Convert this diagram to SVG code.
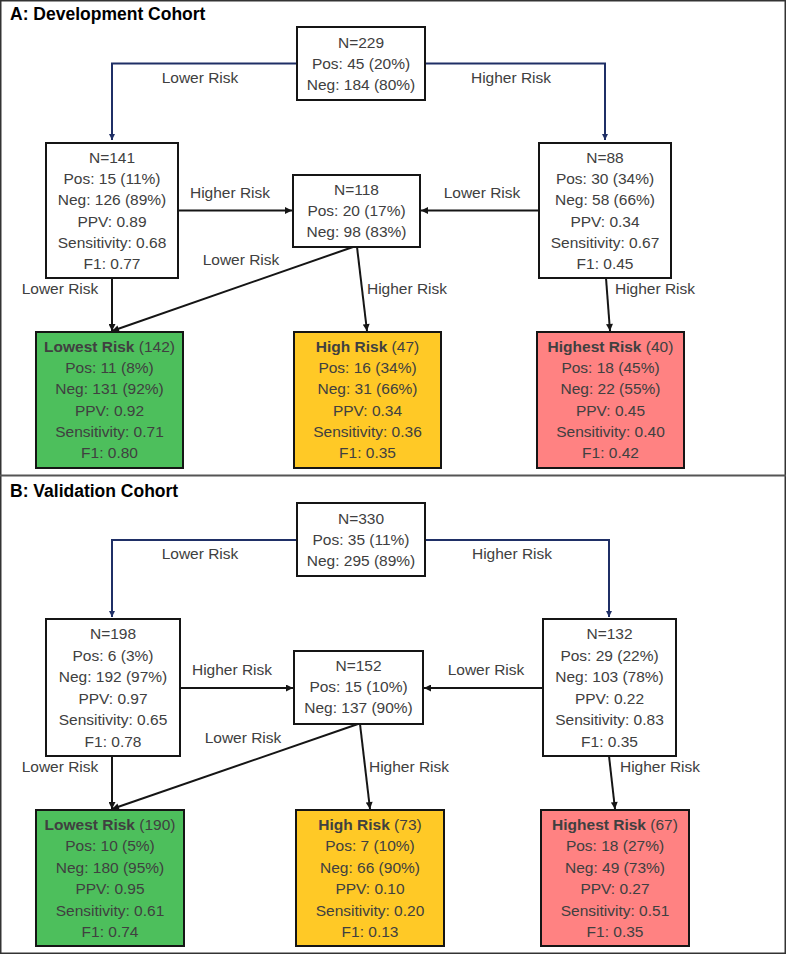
<svg xmlns="http://www.w3.org/2000/svg" width="787" height="955" viewBox="0 0 787 955">
<style>
text{font-family:"Liberation Sans",Arial,sans-serif;font-size:15.5px;fill:#404040;text-anchor:middle}
.title{font-size:17.5px;font-weight:bold;fill:#000;text-anchor:start}
.b{font-weight:bold}
.box{fill:#fff;stroke:#151515;stroke-width:2}
.g{fill:#4DBF5C}.y{fill:#FFC926}.p{fill:#FF8282}
.nv{fill:none;stroke:#1F2F66;stroke-width:2}
.bk{fill:none;stroke:#151515;stroke-width:2}
</style>
<defs>
<marker id="an" viewBox="0 0 10 10" refX="10" refY="5" markerWidth="7" markerHeight="6" markerUnits="userSpaceOnUse" orient="auto"><path d="M0,0L10,5L0,10z" fill="#1F2F66"/></marker>
<marker id="ab" viewBox="0 0 10 10" refX="10" refY="5" markerWidth="8" markerHeight="7" markerUnits="userSpaceOnUse" orient="auto"><path d="M0,0L10,5L0,10z" fill="#151515"/></marker>
</defs>
<rect x="0" y="0" width="787" height="955" fill="#fff"/>
<rect x="0.75" y="0.75" width="784.5" height="952.5" fill="none" stroke="#333" stroke-width="1.5"/>
<line x1="0" y1="475.5" x2="786" y2="475.5" stroke="#555" stroke-width="2"/>
<text class="title" x="10" y="20">A: Development Cohort</text>
<text class="title" x="10" y="497">B: Validation Cohort</text>

<g id="connectors">
<!-- Panel A -->
<path class="nv" d="M297,63.5H112V140" marker-end="url(#an)"/>
<path class="nv" d="M425,63.5H605V140" marker-end="url(#an)"/>
<path class="bk" d="M178,210.5H292" marker-end="url(#ab)"/>
<path class="bk" d="M539,210.5H421" marker-end="url(#ab)"/>
<path class="bk" d="M112,278V331" marker-end="url(#ab)"/>
<path class="bk" d="M353,247L112,331" marker-end="url(#ab)"/>
<path class="bk" d="M357,247L367,331" marker-end="url(#ab)"/>
<path class="bk" d="M606,278L610,331" marker-end="url(#ab)"/>
<text x="200" y="83">Lower Risk</text>
<text x="511" y="83">Higher Risk</text>
<text x="230" y="198">Higher Risk</text>
<text x="482" y="198">Lower Risk</text>
<text x="241" y="265">Lower Risk</text>
<text x="60" y="294">Lower Risk</text>
<text x="407" y="294">Higher Risk</text>
<text x="655" y="294">Higher Risk</text>
<!-- Panel B -->
<path class="nv" d="M297,540H112V617" marker-end="url(#an)"/>
<path class="nv" d="M425,540H609V617" marker-end="url(#an)"/>
<path class="bk" d="M180,688H293" marker-end="url(#ab)"/>
<path class="bk" d="M543,688H424" marker-end="url(#ab)"/>
<path class="bk" d="M112,756V809" marker-end="url(#ab)"/>
<path class="bk" d="M358,724L112,809" marker-end="url(#ab)"/>
<path class="bk" d="M360,724L370,809" marker-end="url(#ab)"/>
<path class="bk" d="M609,756L615,809" marker-end="url(#ab)"/>
<text x="200" y="559">Lower Risk</text>
<text x="512" y="559">Higher Risk</text>
<text x="232" y="675">Higher Risk</text>
<text x="486" y="675">Lower Risk</text>
<text x="243" y="743">Lower Risk</text>
<text x="60" y="772">Lower Risk</text>
<text x="409" y="772">Higher Risk</text>
<text x="660" y="772">Higher Risk</text>
</g>

<!-- Panel A nodes -->
<g id="a-root">
<rect class="box" x="297" y="27" width="128" height="73"/>
<text x="361" y="48">N=229</text><text x="361" y="69">Pos: 45 (20%)</text><text x="361" y="90">Neg: 184 (80%)</text>
</g>
<g id="a-n141">
<rect class="box" x="46" y="143" width="132" height="135"/>
<text x="112" y="163">N=141</text><text x="112" y="184.2">Pos: 15 (11%)</text><text x="112" y="205.4">Neg: 126 (89%)</text><text x="112" y="226.6">PPV: 0.89</text><text x="112" y="247.8">Sensitivity: 0.68</text><text x="112" y="269">F1: 0.77</text>
</g>
<g id="a-n118">
<rect class="box" x="293" y="175" width="127" height="72"/>
<text x="356.5" y="195">N=118</text><text x="356.5" y="216">Pos: 20 (17%)</text><text x="356.5" y="237">Neg: 98 (83%)</text>
</g>
<g id="a-n88">
<rect class="box" x="539" y="143" width="132" height="135"/>
<text x="605" y="163">N=88</text><text x="605" y="184.2">Pos: 30 (34%)</text><text x="605" y="205.4">Neg: 58 (66%)</text><text x="605" y="226.6">PPV: 0.34</text><text x="605" y="247.8">Sensitivity: 0.67</text><text x="605" y="269">F1: 0.45</text>
</g>
<g id="a-lowest">
<rect class="box g" x="36" y="332" width="147" height="136"/>
<text x="109.5" y="352"><tspan class="b">Lowest Risk</tspan> (142)</text><text x="109.5" y="373.2">Pos: 11 (8%)</text><text x="109.5" y="394.4">Neg: 131 (92%)</text><text x="109.5" y="415.6">PPV: 0.92</text><text x="109.5" y="436.8">Sensitivity: 0.71</text><text x="109.5" y="458">F1: 0.80</text>
</g>
<g id="a-high">
<rect class="box y" x="294" y="332" width="147" height="136"/>
<text x="367.5" y="352"><tspan class="b">High Risk</tspan> (47)</text><text x="367.5" y="373.2">Pos: 16 (34%)</text><text x="367.5" y="394.4">Neg: 31 (66%)</text><text x="367.5" y="415.6">PPV: 0.34</text><text x="367.5" y="436.8">Sensitivity: 0.36</text><text x="367.5" y="458">F1: 0.35</text>
</g>
<g id="a-highest">
<rect class="box p" x="537" y="332" width="147" height="136"/>
<text x="610.5" y="352"><tspan class="b">Highest Risk</tspan> (40)</text><text x="610.5" y="373.2">Pos: 18 (45%)</text><text x="610.5" y="394.4">Neg: 22 (55%)</text><text x="610.5" y="415.6">PPV: 0.45</text><text x="610.5" y="436.8">Sensitivity: 0.40</text><text x="610.5" y="458">F1: 0.42</text>
</g>

<!-- Panel B nodes -->
<g id="b-root">
<rect class="box" x="297" y="503" width="128" height="73"/>
<text x="361" y="524">N=330</text><text x="361" y="545">Pos: 35 (11%)</text><text x="361" y="566">Neg: 295 (89%)</text>
</g>
<g id="b-n198">
<rect class="box" x="46" y="619" width="134" height="137"/>
<text x="113" y="639">N=198</text><text x="113" y="660.6">Pos: 6 (3%)</text><text x="113" y="682.2">Neg: 192 (97%)</text><text x="113" y="703.8">PPV: 0.97</text><text x="113" y="725.4">Sensitivity: 0.65</text><text x="113" y="747">F1: 0.78</text>
</g>
<g id="b-n152">
<rect class="box" x="294" y="651" width="129" height="73"/>
<text x="358.5" y="671">N=152</text><text x="358.5" y="692">Pos: 15 (10%)</text><text x="358.5" y="713">Neg: 137 (90%)</text>
</g>
<g id="b-n132">
<rect class="box" x="543" y="619" width="133" height="137"/>
<text x="609.5" y="639">N=132</text><text x="609.5" y="660.6">Pos: 29 (22%)</text><text x="609.5" y="682.2">Neg: 103 (78%)</text><text x="609.5" y="703.8">PPV: 0.22</text><text x="609.5" y="725.4">Sensitivity: 0.83</text><text x="609.5" y="747">F1: 0.35</text>
</g>
<g id="b-lowest">
<rect class="box g" x="36" y="810" width="148" height="136"/>
<text x="110" y="830"><tspan class="b">Lowest Risk</tspan> (190)</text><text x="110" y="851.4">Pos: 10 (5%)</text><text x="110" y="872.8">Neg: 180 (95%)</text><text x="110" y="894.2">PPV: 0.95</text><text x="110" y="915.6">Sensitivity: 0.61</text><text x="110" y="937">F1: 0.74</text>
</g>
<g id="b-high">
<rect class="box y" x="296" y="810" width="148" height="136"/>
<text x="370" y="830"><tspan class="b">High Risk</tspan> (73)</text><text x="370" y="851.4">Pos: 7 (10%)</text><text x="370" y="872.8">Neg: 66 (90%)</text><text x="370" y="894.2">PPV: 0.10</text><text x="370" y="915.6">Sensitivity: 0.20</text><text x="370" y="937">F1: 0.13</text>
</g>
<g id="b-highest">
<rect class="box p" x="541" y="810" width="148" height="136"/>
<text x="615" y="830"><tspan class="b">Highest Risk</tspan> (67)</text><text x="615" y="851.4">Pos: 18 (27%)</text><text x="615" y="872.8">Neg: 49 (73%)</text><text x="615" y="894.2">PPV: 0.27</text><text x="615" y="915.6">Sensitivity: 0.51</text><text x="615" y="937">F1: 0.35</text>
</g>
</svg>
